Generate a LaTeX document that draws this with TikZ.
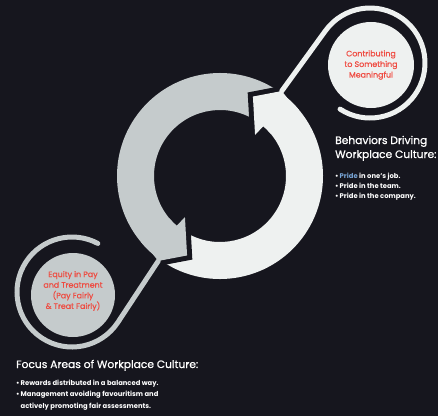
\documentclass[tikz,border=0pt]{standalone}
\usepackage{fontspec}
\setmainfont{Poppins}
\newfontfamily\popmed[FakeBold=0.8]{Poppins}
\usetikzlibrary{calc}
\definecolor{bgc}{RGB}{22,22,30}
\definecolor{ringgrey}{RGB}{197,203,204}
\definecolor{ringwhite}{RGB}{238,241,240}
\definecolor{accent}{RGB}{238,76,66}
\definecolor{prideblue}{RGB}{120,165,215}
\begin{document}
\begin{tikzpicture}[x=1pt,y=1pt,
  halo/.style={draw=bgc,line width=10,line join=miter,line cap=butt},
  loopline/.style={line width=5,line cap=round},
  bubble/.style={circle,inner sep=0pt},
  bubbletext/.style={text=accent,align=center,font=\popmed\fontsize{7.9}{10.6}\selectfont},
  heading/.style={anchor=base west,text=white,inner sep=0pt,font=\popmed\fontsize{10.7}{12}\selectfont},
  bullet/.style={anchor=base west,text=white,inner sep=0pt,font=\fontsize{6.8}{8}\selectfont\bfseries}]
\fill[bgc] (0,0) rectangle (438,416);
\useasboundingbox (0,0) rectangle (438,416);
\coordinate (C) at (220,240);
% head points
\coordinate (wP1) at ([shift={(54:105)}]C);
\coordinate (wP2) at ([shift={(67.5:86)}]C);
\coordinate (wP3) at ([shift={(49.5:54)}]C);
\coordinate (wP4) at ([shift={(49:66)}]C);
\coordinate (wP5) at ([shift={(49:103)}]C);
\coordinate (gP1) at ([shift={(234:105)}]C);
\coordinate (gP2) at ([shift={(247.5:86)}]C);
\coordinate (gP3) at ([shift={(229.5:54)}]C);
\coordinate (gP4) at ([shift={(229:66)}]C);
\coordinate (gP5) at ([shift={(229:103)}]C);
% shafts
\fill[ringwhite] ([shift={(236:103)}]C) arc[start angle=236,end angle=410,radius=103]
  -- ([shift={(50:66)}]C) arc[start angle=50,end angle=-124,radius=66] -- cycle;
\fill[ringgrey] ([shift={(56:103)}]C) arc[start angle=56,end angle=230,radius=103]
  -- ([shift={(230:66)}]C) arc[start angle=230,end angle=56,radius=66] -- cycle;
% halos
\draw[halo] (wP1) -- (wP2) -- (wP3);
\draw[halo] (gP1) -- (gP2) -- (gP3);
% heads
\fill[ringwhite] ([shift={(40:103)}]C) arc[start angle=40,end angle=50,radius=103]
  -- ([shift={(50:66)}]C) arc[start angle=50,end angle=40,radius=66] -- cycle;
\fill[ringwhite] (wP1) -- (wP2) -- (wP3) -- (wP4) -- (wP5) -- cycle;
\fill[ringgrey] ([shift={(220:103)}]C) arc[start angle=220,end angle=230,radius=103]
  -- ([shift={(230:66)}]C) arc[start angle=230,end angle=220,radius=66] -- cycle;
\fill[ringgrey] (gP1) -- (gP2) -- (gP3) -- (gP4) -- (gP5) -- cycle;
% loops
\coordinate (L1) at (370,353);
\coordinate (L2) at (72,124);
\draw[loopline,ringwhite] (wP1) -- ([shift={(144.06:55)}]L1) arc[start angle=144.06,end angle=-123,radius=55];
\draw[loopline,ringgrey] (gP1) -- ([shift={(-33.35:55)}]L2) arc[start angle=-33.35,end angle=-298,radius=55];
% bubbles
\node[bubble,fill=ringwhite,minimum size=86pt] (topb) at (371,351) {};
\node[bubbletext] (topt) at (371,351) {Contributing\\to Something\\Meaningful};
\node[bubble,fill=ringgrey,minimum size=84pt] (botb) at (73,121) {};
\node[bubbletext] (bott) at (73,125) {Equity in Pay\\and Treatment\\(Pay Fairly\\\& Treat Fairly)};
% right text
\node[heading] (rh1) at (335,272) {Behaviors Driving};
\node[heading] (rh2) at (335,258) {Workplace Culture:};
\node[bullet] (rb1) at (335,237.5) {•\,{\color{prideblue}Pride} in one’s job.};
\node[bullet] (rb2) at (335,227.5) {•\,Pride in the team.};
\node[bullet] (rb3) at (335,217.5) {•\,Pride in the company.};
% bottom text
\node[heading] (bh1) at (16,48) {Focus Areas of Workplace Culture:};
\node[bullet] (bb1) at (16,30.5) {•\,Rewards distributed in a balanced way.};
\node[bullet] (bb2) at (16,19.5) {•\,Management avoiding favouritism and};
\node[bullet] (bb3) at (16,8) {\phantom{•\,}actively promoting fair assessments.};
\end{tikzpicture}
\end{document}
